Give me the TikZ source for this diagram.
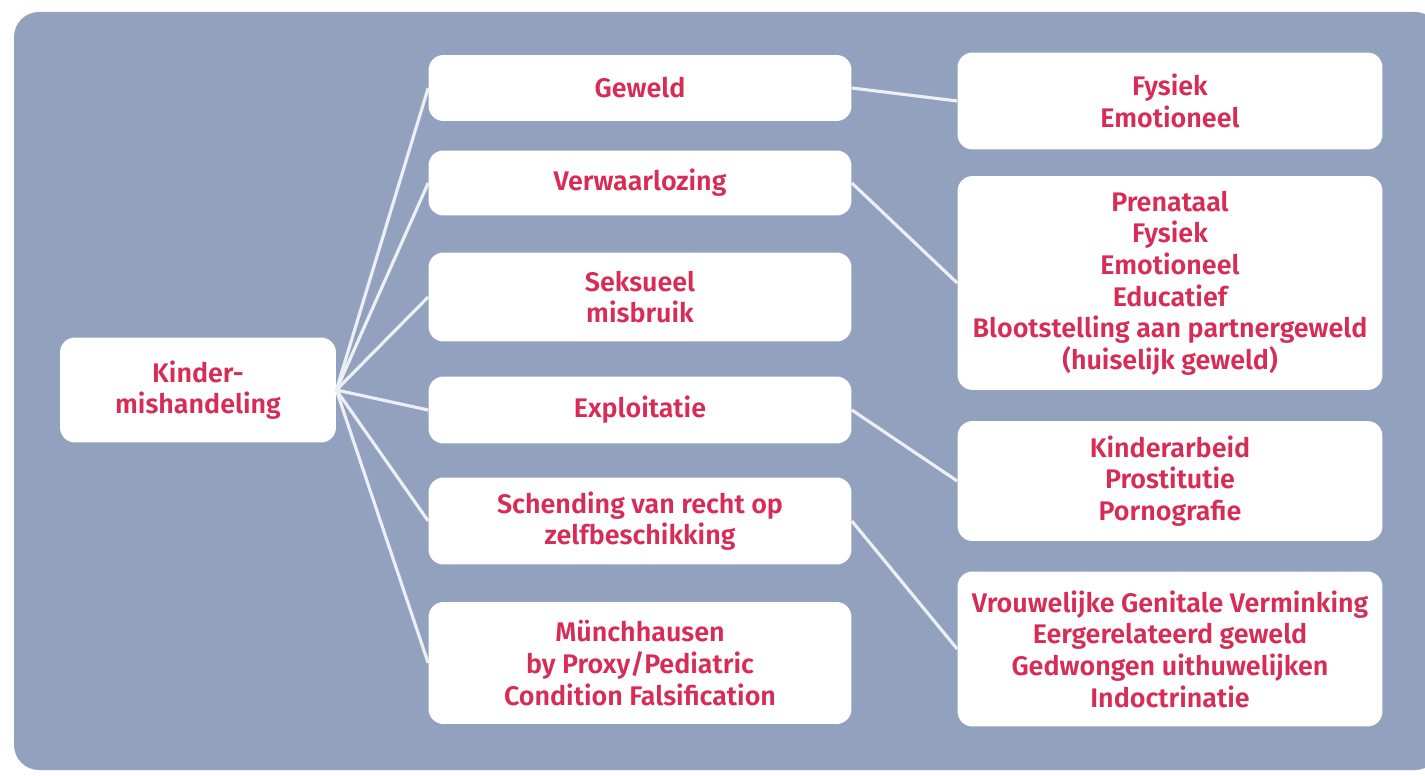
\documentclass[tikz,border=0pt]{standalone}
\usepackage{fontspec}
\setmainfont{Fira Sans}[BoldFont={Fira Sans SemiBold}]
\definecolor{kmbg}{RGB}{145,161,190}
\definecolor{kmred}{RGB}{214,44,86}
\definecolor{kmline}{RGB}{236,239,244}

\begin{document}
\begin{tikzpicture}[x=0.02cm, y=-0.02cm,
        box/.style={rectangle, fill=white, rounded corners=0.3cm, align=center, text=kmred, font=\bfseries\fontsize{15.3}{18}\selectfont},
        root/.style={box, minimum width=5.52cm, minimum height=2.1cm},
        category/.style={box, minimum width=8.46cm},
        detail/.style={box, minimum width=8.5cm},
        link/.style={draw=kmline, line width=1.8pt}
    ]
        % Background panel
        \useasboundingbox (0,0) rectangle (1425,776);
        \fill[kmbg, rounded corners=0.5cm] (14,12) rectangle (1440,770);

        % Root node
        \node[root] (kinder) at (198,390) {Kinder-\\mishandeling};

        % Categories
        \node[category, minimum height=1.32cm] (geweld) at (640,88) {Geweld};
        \node[category, minimum height=1.30cm] (verwaarlozing) at (640,183) {Verwaarlozing};
        \node[category, minimum height=1.78cm] (seksueel) at (640,297) {Seksueel\\misbruik};
        \node[category, minimum height=1.34cm] (exploitatie) at (640,410) {Exploitatie};
        \node[category, minimum height=1.74cm] (schending) at (640,521) {Schending van recht op\\zelfbeschikking};
        \node[category, minimum height=2.44cm] (munchhausen) at (640,663) {Münchhausen\\by Proxy/Pediatric\\Condition Falsification};

        % Details
        \node[detail, minimum height=1.94cm] (fysiek) at (1170,101) {Fysiek\\Emotioneel};
        \node[detail, minimum height=4.28cm] (prenataal) at (1170,283) {Prenataal\\Fysiek\\Emotioneel\\Educatief\\Blootstelling aan partnergeweld\\(huiselijk geweld)};
        \node[detail, minimum height=2.40cm] (kinderarbeid) at (1170,481) {Kinderarbeid\\Prostitutie\\Pornografie};
        \node[detail, minimum height=3.10cm] (vrouwelijk) at (1170,649) {Vrouwelijke Genitale Verminking\\Eergerelateerd geweld\\Gedwongen uithuwelijken\\Indoctrinatie};

        % Connections from the root
        \foreach \cat in {geweld, verwaarlozing, seksueel, exploitatie, schending, munchhausen}
            \draw[link] (kinder.east) -- (\cat.west);

        % Connections to the details
        \draw[link] (geweld.east) -- (fysiek.west);
        \draw[link] (verwaarlozing.east) -- (prenataal.west);
        \draw[link] (exploitatie.east) -- (kinderarbeid.west);
        \draw[link] (schending.east) -- (vrouwelijk.west);

    \end{tikzpicture}
\end{document}
